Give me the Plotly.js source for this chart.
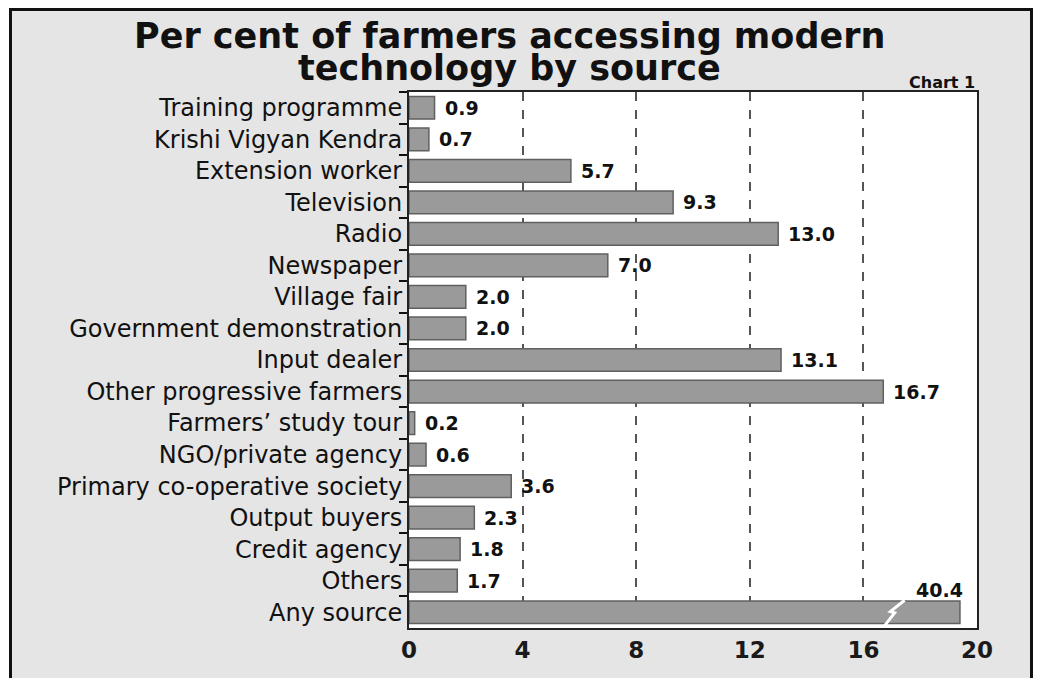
<!DOCTYPE html>
<html>
<head>
<meta charset="utf-8">
<script src="https://cdn.plot.ly/plotly-3.0.1.min.js"></script>
<style>
  html, body { margin: 0; padding: 0; background: #ffffff; }
  #frame { position: absolute; left: 9px; top: 8px; width: 1018px; height: 667px; border: 3px solid #111; background: #e5e5e5; }
  #chart { width: 1018px; height: 667px; }
</style>
</head>
<body>
<div id="frame"><div id="chart"></div></div>
<script>
// ---- Data ----
const categories = [
  "Training programme", "Krishi Vigyan Kendra", "Extension worker", "Television",
  "Radio", "Newspaper", "Village fair", "Government demonstration", "Input dealer",
  "Other progressive farmers", "Farmers\u2019 study tour", "NGO/private agency",
  "Primary co-operative society", "Output buyers", "Credit agency", "Others", "Any source"
];
const values = [0.9, 0.7, 5.7, 9.3, 13.0, 7.0, 2.0, 2.0, 13.1, 16.7, 0.2, 0.6, 3.6, 2.3, 1.8, 1.7, 40.4];
const valueLabels = ["0.9", "0.7", "5.7", "9.3", "13.0", "7.0", "2.0", "2.0", "13.1", "16.7", "0.2", "0.6", "3.6", "2.3", "1.8", "1.7", "40.4"];
const xTicks = [0, 4, 8, 12, 16, 20];
const axisMax = 20;
const brokenBarLength = 19.4;   // drawn length of the off-scale bar
const breakAt = 16.9;           // where the break mark crosses it
const titleLines = ["Per cent of farmers accessing modern", "technology by source"];
const chartTag = "Chart 1";

// ---- Layout geometry ----
const W = 1018, H = 667;
const M = { l: 397, r: 53, t: 81, b: 50 };
const plotW = W - M.l - M.r, plotH = H - M.t - M.b;
const px2x = p => (p - M.l) / plotW;
const px2y = p => 1 - (p - M.t) / plotH;

const drawn = values.map(v => (v > axisMax ? brokenBarLength : v));
const BG = 0.28;

const trace = {
  type: "bar",
  orientation: "h",
  x: drawn,
  y: categories,
  marker: { color: "#9a9a9a", line: { color: "#606060", width: 1.5 } },
  hoverinfo: "skip"
};

const labelFont = { family: "DejaVu Sans", size: 19, weight: "bold", color: "#111" };
const annotations = [];
values.forEach((v, i) => {
  if (v > axisMax) {
    annotations.push({
      x: drawn[i], y: categories[i], xref: "x", yref: "y",
      text: valueLabels[i], showarrow: false, xanchor: "right", yanchor: "middle",
      yshift: 22, xshift: 5, font: labelFont
    });
  } else {
    annotations.push({
      x: drawn[i], y: categories[i], xref: "x", yref: "y",
      text: valueLabels[i], showarrow: false, xanchor: "left", yanchor: "middle",
      xshift: 8, font: labelFont
    });
  }
});
// title lines
const titleFont = { family: "DejaVu Sans", size: 35, weight: "bold", color: "#111" };
annotations.push({
  xref: "paper", yref: "paper", x: px2x(497), y: px2y(25), xanchor: "center", yanchor: "middle",
  text: titleLines[0], showarrow: false, font: titleFont
});
annotations.push({
  xref: "paper", yref: "paper", x: px2x(497), y: px2y(57), xanchor: "center", yanchor: "middle",
  text: titleLines[1], showarrow: false, font: titleFont
});
annotations.push({
  xref: "paper", yref: "paper", x: 1, y: px2y(72), xanchor: "right", yanchor: "middle",
  text: chartTag, showarrow: false,
  font: { family: "DejaVu Sans", size: 16, weight: "bold", color: "#111" }
});

// break mark across the off-scale bar
const shapes = [];
values.forEach((v, i) => {
  if (v > axisMax) {
    const h = (1 - BG) / 2;
    const p = `M ${breakAt - 0.2},${i + h + 0.12} L ${breakAt + 0.2},${i + 0.02} L ${breakAt + 0.05},${i - 0.02} L ${breakAt + 0.55},${i - h - 0.02}`;
    shapes.push({ type: "path", xref: "x", yref: "y", path: p, line: { color: "#ffffff", width: 3 } });
  }
});

const layout = {
  width: W, height: H,
  margin: M,
  paper_bgcolor: "#e5e5e5",
  plot_bgcolor: "#ffffff",
  showlegend: false,
  bargap: BG,
  xaxis: {
    range: [0, axisMax],
    tickvals: xTicks,
    ticktext: xTicks.map(String),
    showgrid: true, gridcolor: "#555", griddash: "dash", gridwidth: 2,
    zeroline: false,
    showline: true, linecolor: "#222", linewidth: 2, mirror: true,
    ticks: "", ticklabelstandoff: 0,
    tickfont: { family: "DejaVu Sans", size: 23, weight: "bold", color: "#1a1a1a" },
    fixedrange: true
  },
  yaxis: {
    type: "category",
    range: [categories.length - 0.5, -0.5],
    autorange: false,
    showgrid: false, zeroline: false,
    showline: true, linecolor: "#222", linewidth: 2, mirror: true,
    ticks: "outside", tickson: "boundaries", ticklen: 8, tickwidth: 2, tickcolor: "#111",
    tickfont: { family: "DejaVu Sans", size: 24, color: "#111" },
    fixedrange: true
  },
  annotations: annotations,
  shapes: shapes
};

Plotly.newPlot("chart", [trace], layout, { displayModeBar: false, staticPlot: true });
</script>
</body>
</html>
